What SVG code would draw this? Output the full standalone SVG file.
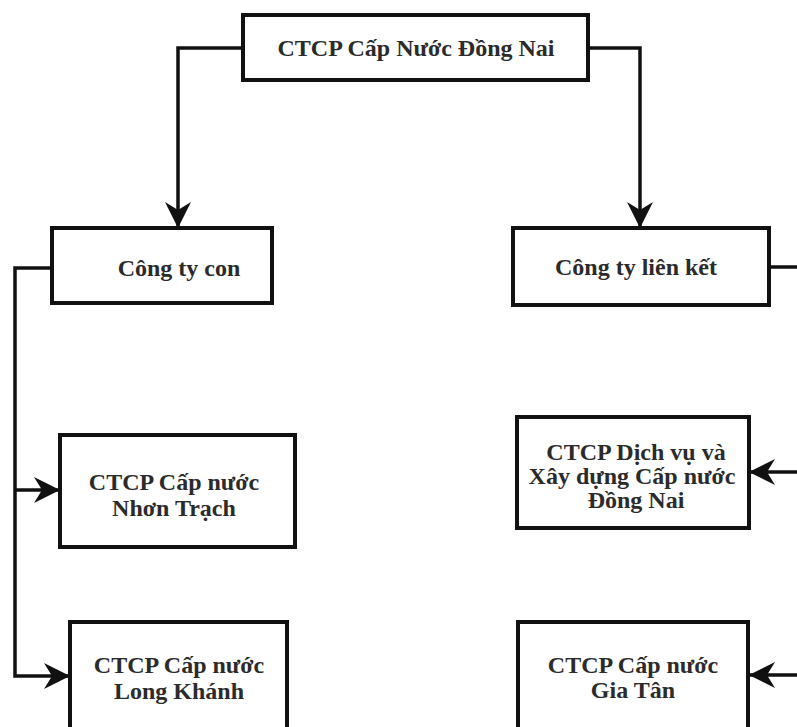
<svg xmlns="http://www.w3.org/2000/svg" width="797" height="727" viewBox="0 0 797 727">
<style>
.box{fill:#fff;stroke:#111;stroke-width:4}
.lbl{font-family:"Liberation Serif","Times New Roman",serif;font-weight:bold;font-size:24px;fill:#2b2b2b;text-anchor:middle}
.con{fill:none;stroke:#111;stroke-width:3.5}
</style>
<defs>
<marker id="ah" viewBox="0 0 26 26" refX="25" refY="13" markerWidth="26" markerHeight="26" markerUnits="userSpaceOnUse" orient="auto">
<path d="M0,0 L26,13 L0,26 L8,13 Z" fill="#111"/>
</marker>
</defs>
<rect width="797" height="727" fill="#fff"/>
<g id="connectors">
<path class="con" d="M243,48 H178 V227" marker-end="url(#ah)"/>
<path class="con" d="M588,48 H640 V227" marker-end="url(#ah)"/>
<path class="con" d="M52,268 H15 V676 H69" marker-end="url(#ah)"/>
<path class="con" d="M15,490 H59" marker-end="url(#ah)"/>
<path class="con" d="M769,267 H802 V675 H750" marker-end="url(#ah)"/>
<path class="con" d="M802,472 H750" marker-end="url(#ah)"/>
</g>
<g id="n-top">
<rect class="box" x="243" y="15" width="345" height="65"/>
<text class="lbl" x="416" y="56">CTCP Cấp Nước Đồng Nai</text>
</g>
<g id="n-con">
<rect class="box" x="52" y="228" width="220" height="75"/>
<text class="lbl" x="179" y="276">Công ty con</text>
</g>
<g id="n-lienket">
<rect class="box" x="513" y="228" width="256" height="77"/>
<text class="lbl" x="636" y="275">Công ty liên kết</text>
</g>
<g id="n-nhontrach">
<rect class="box" x="60" y="435" width="235" height="112"/>
<text class="lbl" x="174" y="490">CTCP Cấp nước</text>
<text class="lbl" x="174" y="516">Nhơn Trạch</text>
</g>
<g id="n-dichvu">
<rect class="box" x="517" y="417" width="232" height="111"/>
<text class="lbl" x="636" y="460">CTCP Dịch vụ và</text>
<text class="lbl" x="632" y="484">Xây dựng Cấp nước</text>
<text class="lbl" x="636" y="508">Đồng Nai</text>
</g>
<g id="n-longkhanh">
<rect class="box" x="70" y="622" width="217" height="125"/>
<text class="lbl" x="179" y="673">CTCP Cấp nước</text>
<text class="lbl" x="179" y="699">Long Khánh</text>
</g>
<g id="n-giatan">
<rect class="box" x="518" y="622" width="230" height="125"/>
<text class="lbl" x="633" y="673">CTCP Cấp nước</text>
<text class="lbl" x="633" y="698">Gia Tân</text>
</g>
</svg>
